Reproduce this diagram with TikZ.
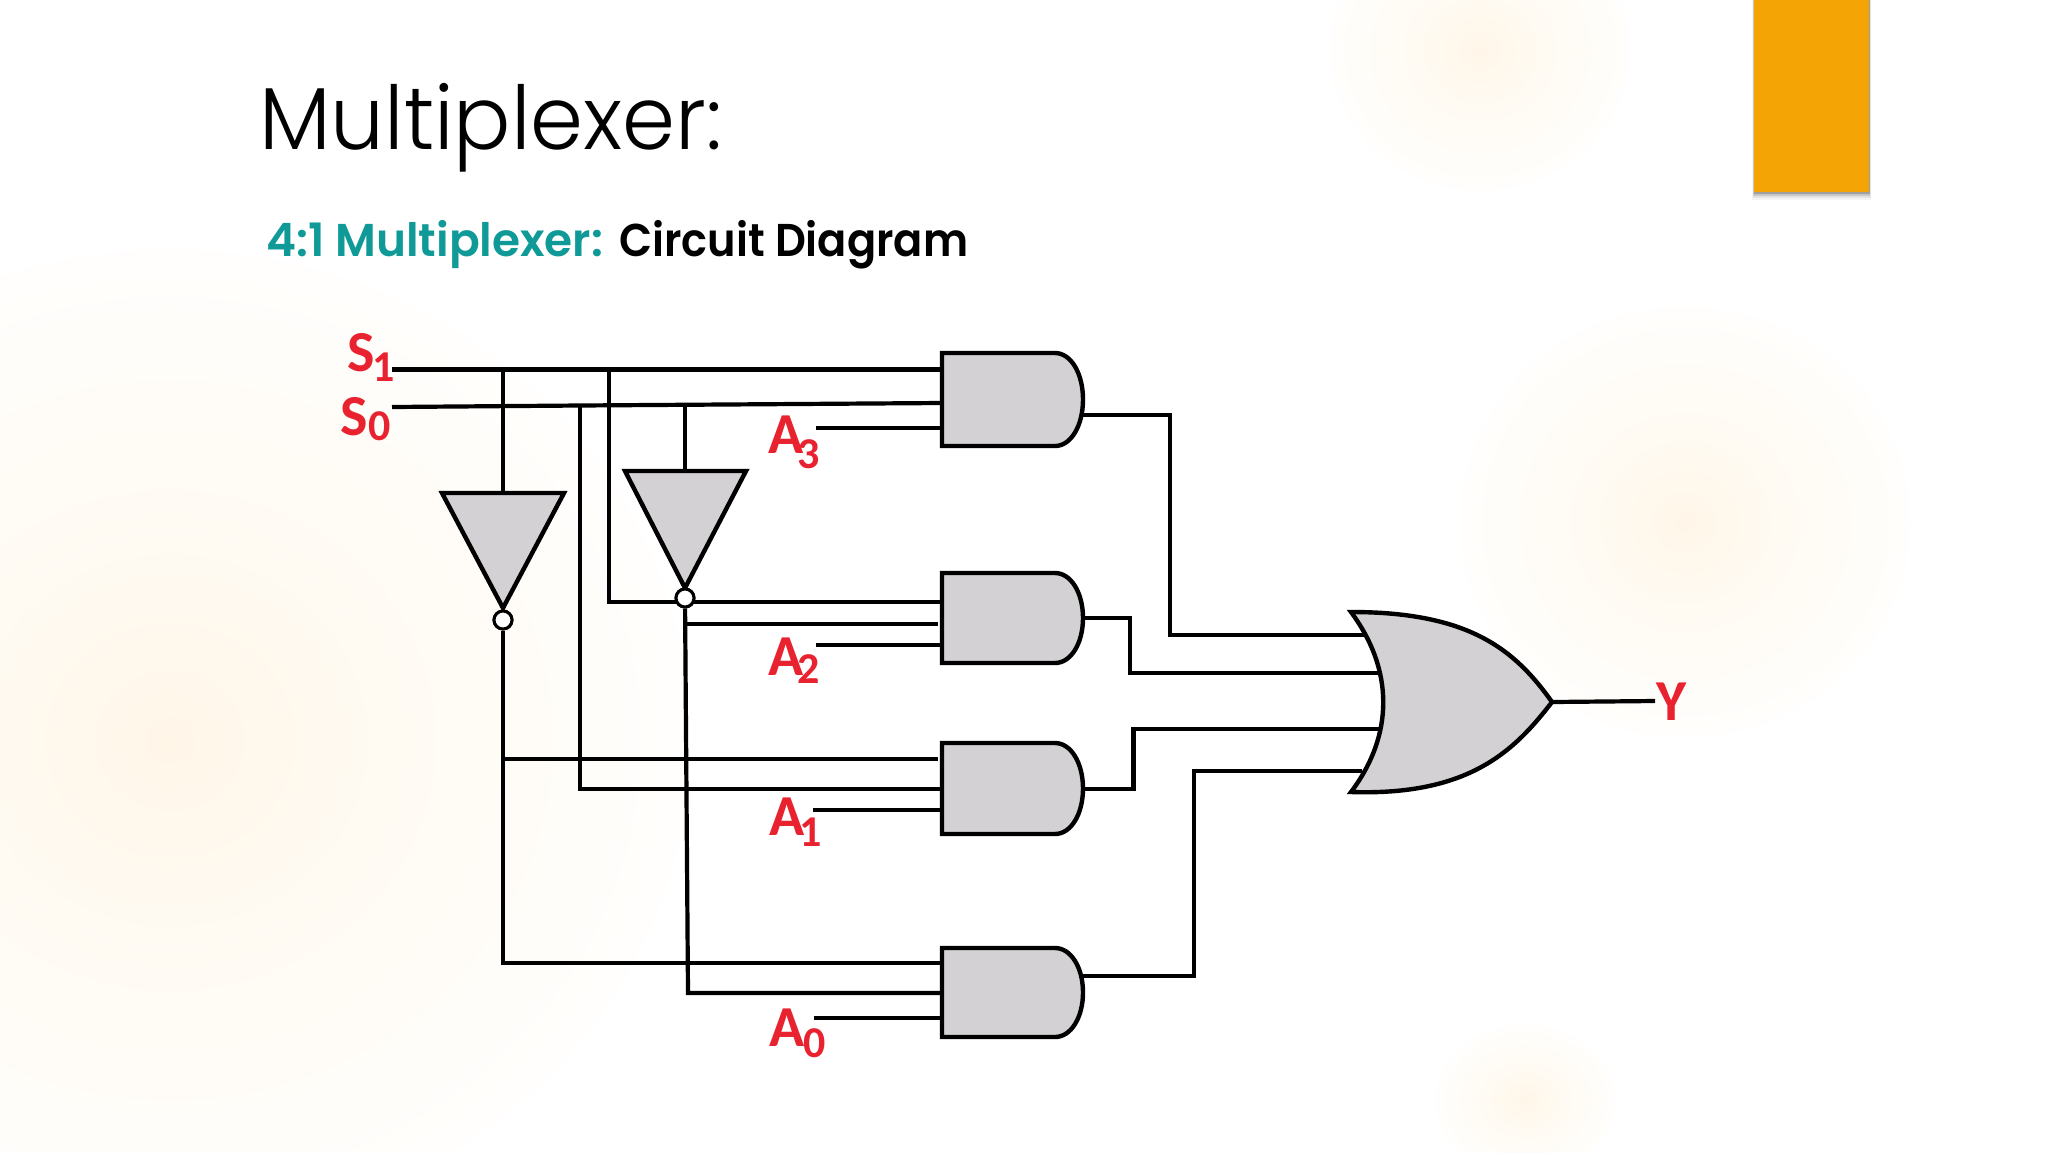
\documentclass[tikz,border=0pt]{standalone}
\usepackage{fontspec}
\usepackage{graphicx}
\usetikzlibrary{calc}
\newfontfamily\titlefont{Poppins Light}
\newfontfamily\subfont{Poppins SemiBold}
\newfontfamily\labfont{Carlito Bold}
\definecolor{gatefill}{HTML}{D3D1D3}
\definecolor{labred}{HTML}{E8232F}
\definecolor{tealtx}{HTML}{0F9A97}
\definecolor{orangebar}{HTML}{F4A405}
\definecolor{gc}{HTML}{FFF6E8}
\definecolor{gm}{HTML}{FFFBF4}
\pgfdeclareradialshading{glow}{\pgfpointorigin}{color(0bp)=(gc); color(12bp)=(gm); color(29bp)=(white); color(50bp)=(white)}
\tikzset{
  wire/.style={line width=4.2pt,black,line join=miter},
  gateline/.style={line width=4.4pt,black,fill=gatefill,line join=miter},
  gatebox/.style={inner sep=0pt,outer sep=0pt,minimum width=#1},
  bubble/.style={circle,draw=black,line width=3pt,fill=white,minimum size=18pt,inner sep=0pt},
  lab/.style={anchor=base west,inner sep=0pt,outer sep=0pt,text=labred,font=\labfont},
  glowblob/.style={shading=glow}
}
\newcommand{\lab}[4]{{\fontsize{58}{58}\selectfont #1}\kern#4pt\raisebox{#3pt}{\fontsize{44}{44}\selectfont #2}}
\begin{document}
\begin{tikzpicture}[x=1pt,y=-1pt]
\useasboundingbox (0,0) rectangle (2048,1152);
\fill[white] (0,0) rectangle (2048,1152);
% soft background glows
\begin{scope}
\clip (0,0) rectangle (2048,1152);
\path[glowblob] (170,740) ellipse (520 and 490);
\path[glowblob] (1480,50) ellipse (150 and 140);
\path[glowblob] (1685,522) ellipse (225 and 215);
\path[glowblob] (1525,1100) ellipse (90 and 75);
\end{scope}
% accent bar with shadow
\foreach \d/\o in {8/0.04,6/0.07,4/0.12,2/0.2}{
  \fill[black,opacity=\o] (1754-\d/4,0) rectangle (1869+\d/4,192+\d);
}
\node[fill=orangebar,inner sep=0pt,outer sep=0pt,anchor=north west,minimum width=115pt,minimum height=192pt] (bar) at (1754,0) {};
% titles
\node[anchor=base west,inner sep=0pt] (title) at (259,149) {\resizebox{463pt}{\height}{\fontsize{88}{88}\selectfont\titlefont Multiplexer:}};
\node[anchor=base west,inner sep=0pt,text=tealtx] (sub1) at (266,256) {\resizebox{337pt}{\height}{\fontsize{46}{46}\selectfont\subfont 4:1 Multiplexer:}};
\node[anchor=base west,inner sep=0pt] (sub2) at (619,256) {\resizebox{349pt}{\height}{\fontsize{46}{46}\selectfont\subfont Circuit Diagram}};
% labels
\node[lab] (S1) at (347,371) {\lab{S}{1}{-10}{-2}};
\node[lab] (S0) at (340,435) {\lab{S}{0}{-5}{1}};
\node[lab] (A3) at (768,453) {\lab{A}{3}{-15}{-6}};
\node[lab] (A2) at (768,675) {\lab{A}{2}{-8}{-6}};
\node[lab] (A1) at (769,835) {\lab{A}{1}{-11}{-5}};
\node[lab] (A0) at (769,1046) {\lab{A}{0}{-11}{-1}};
\node[lab] (Y) at (1656,720) {\fontsize{58}{58}\selectfont Y};
% gate anchor boxes (shapes are drawn after the wires)
\node[gatebox=141pt,minimum height=93pt] (and3) at (1012.5,399.5) {};
\node[gatebox=141pt,minimum height=90pt] (and2) at (1012.5,618) {};
\node[gatebox=141pt,minimum height=91pt] (and1) at (1012.5,788.5) {};
\node[gatebox=141pt,minimum height=89pt] (and0) at (1012.5,992.5) {};
\node[gatebox=201pt,minimum height=180pt] (orbox) at (1451.5,702) {};
\node[bubble] (bub1) at (503,620) {};
\node[bubble] (bub2) at (685,598) {};
% pins and wire ends
\coordinate (s1l) at (392,369.5);
\coordinate (s0l) at (392,407);
\coordinate (s1a) at (503,369.5);
\coordinate (s1b) at (609,369.5);
\coordinate (s0a) at (580,405.5);
\coordinate (s0b) at (685,405);
\coordinate (inv1top) at (503,493);
\coordinate (inv2top) at (685,471);
\coordinate (p2) at (609,602);
\coordinate (p1) at (580,789);
\coordinate (p3) at (503,759);
\coordinate (p4) at (503,963);
\coordinate (p5) at (687,624);
\coordinate (p6) at (688,993);
\coordinate (a3w) at (816,428);
\coordinate (a2w) at (816,645);
\coordinate (a1w) at (813,810);
\coordinate (a0w) at (814,1018);
\coordinate (o3a) at (1170,415);
\coordinate (o3b) at (1170,635);
\coordinate (o3c) at (1367,635);
\coordinate (o2a) at (1130,618);
\coordinate (o2b) at (1130,673);
\coordinate (o2c) at (1385,673);
\coordinate (o1a) at (1133.5,789);
\coordinate (o1b) at (1133.5,729);
\coordinate (o1c) at (1383,729);
\coordinate (o0a) at (1194,976);
\coordinate (o0b) at (1194,771);
\coordinate (o0c) at (1362,771);
\coordinate (yw) at (1655,701);
% wires
\draw[wire] (s1l) -- (and3.west |- s1l);
\draw[wire] (s0l) -- (s0a) -- (and3.west |- 0,403);
\draw[wire] (s1a) -- (inv1top);
\draw[wire] (s0b) -- (inv2top);
\draw[wire] (s1b) -- (p2) -- (and2.west |- p2);
\draw[wire] (s0a) -- (p1) -- (and1.west |- p1);
\draw[wire] (bub1) -- (p4) -- (and0.west |- p4);
\draw[wire] (p3) -- ($(and1.west |- p3)+(-4,0)$);
\draw[wire] (bub2) -- (p6) -- (and0.west |- p6);
\draw[wire] (p5) -- ($(and2.west |- p5)+(-4,0)$);
\draw[wire] (a3w) -- (and3.west |- a3w);
\draw[wire] (a2w) -- (and2.west |- a2w);
\draw[wire] (a1w) -- (and1.west |- a1w);
\draw[wire] (a0w) -- (and0.west |- a0w);
\draw[wire] (and3.east |- o3a) -- (o3a) -- (o3b) -- (o3c);
\draw[wire] (and2.east |- o2a) -- (o2a) -- (o2b) -- (o2c);
\draw[wire] (and1.east |- o1a) -- (o1a) -- (o1b) -- (o1c);
\draw[wire] (and0.east |- o0a) -- (o0a) -- (o0b) -- (o0c);
\draw[wire] (orbox.east) -- (yw);
% inverters
\draw[gateline] (442,493) -- (564,493) -- (503,608) -- cycle;
\draw[gateline] (625,471) -- (746,471) -- (685,588) -- cycle;
\node[bubble] at (bub1) {};
\node[bubble] at (bub2) {};
% AND gates
\foreach \g/\h in {and3/93,and2/90,and1/91,and0/89}{
  \draw[gateline] (\g.north west) -- ++(113,0)
    .. controls +(16,0) and ($(\g.east)+(0,{-0.28*\h})$) .. (\g.east)
    .. controls ($(\g.east)+(0,{0.28*\h})$) and ($(\g.south west)+(129,0)$) .. ($(\g.south west)+(113,0)$)
    -- (\g.south west) -- cycle;
}
% OR gate
\draw[gateline] (orbox.north west) .. controls (1470,612) and (1515,650) .. (orbox.east)
  .. controls (1515,750) and (1470,796) .. (orbox.south west)
  .. controls (1394,735) and (1394,670) .. (orbox.north west) -- cycle;
\end{tikzpicture}
\end{document}
